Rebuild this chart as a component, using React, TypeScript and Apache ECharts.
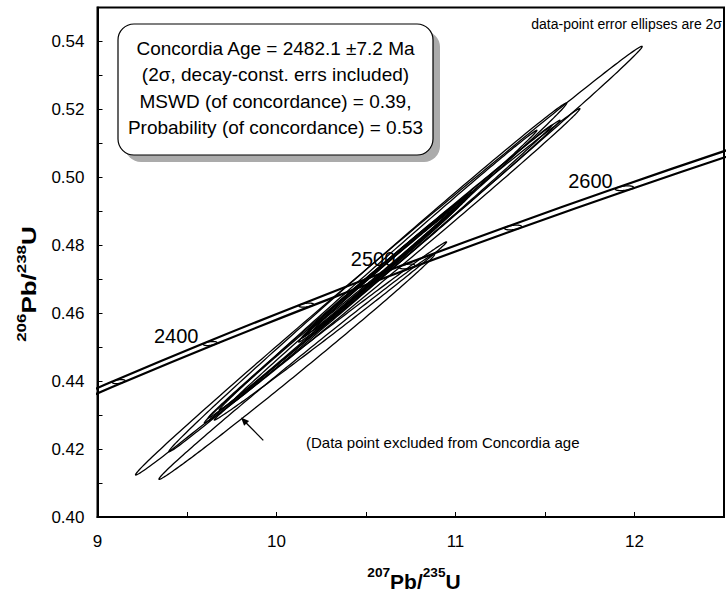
import React, { useEffect, useRef } from "react";
import * as echarts from "echarts";

// Concordia curve (Wetherill), nodes every 50 Ma
const concordiaAges = [2300, 2350, 2400, 2450, 2500, 2550, 2600, 2650];
const concordiaX = [8.6326, 9.1188, 9.6294, 10.166, 10.7297, 11.3218, 11.9437, 12.597];
const concordiaY = [0.42873, 0.43986, 0.45107, 0.46237, 0.47375, 0.48523, 0.49679, 0.50845];
// decay-constant 2-sigma half width of the band in 207Pb/235U
const bandDx = [0.0332, 0.0357, 0.0383, 0.041, 0.044, 0.0471, 0.0505, 0.0541];
const markerDy = [0.0006, 0.0006, 0.0006, 0.0006, 0.0007, 0.0007, 0.0007, 0.0007];
const markerRho = [0.4, 0.4, 0.4, 0.4, 0.4, 0.4, 0.4, 0.4];
const labeledAges = [2400, 2500, 2600];

// data-point error ellipses (centre, 2-sigma errors, error correlation)
const ellX = [10.6276, 10.1134, 10.51, 10.6459, 10.6015, 10.3012, 10.6035, 10.609, 10.5674, 10.6367, 10.609, 10.6146, 10.6063];
const ellSx = [1.4152, 0.7701, 1.1112, 1.0491, 0.9825, 0.6489, 0.4632, 0.4299, 0.8874, 0.9013, 0.4853, 0.4077, 0.4493];
const ellY = [0.47547, 0.44424, 0.47055, 0.47395, 0.47297, 0.45477, 0.47355, 0.47414, 0.47267, 0.47414, 0.47356, 0.47341, 0.47355];
const ellSy = [0.06311, 0.03315, 0.05134, 0.04629, 0.04384, 0.02623, 0.02089, 0.01912, 0.04119, 0.04119, 0.02207, 0.01839, 0.0203];
const ellRho = [0.99881, 0.99765, 0.99858, 0.99877, 0.99904, 0.99841, 0.9979, 0.99874, 0.99909, 0.99929, 0.99753, 0.99801, 0.99928];

const boxLines = [
  "Concordia Age = 2482.1 \u00b17.2 Ma",
  "(2\u03c3, decay-const. errs included)",
  "MSWD (of concordance) = 0.39,",
  "Probability (of concordance) = 0.53",
];

const FONT = '"Liberation Sans", Arial, Helvetica, sans-serif';

function ellipseRender(lineWidth: number) {
  return (params: any, api: any) => {
    const cx = api.value(0);
    const sx = api.value(1);
    const cy = api.value(2);
    const sy = api.value(3);
    const r = api.value(4);
    const k = Math.sqrt(Math.max(0, 1 - r * r));
    const pts: number[][] = [];
    const n = 240;
    for (let i = 0; i < n; i++) {
      const t = (i / n) * Math.PI * 2;
      const x = cx + sx * Math.cos(t);
      const y = cy + sy * (r * Math.cos(t) + k * Math.sin(t));
      pts.push(api.coord([x, y]));
    }
    return {
      type: "polygon",
      shape: { points: pts },
      style: { fill: "none", stroke: "#000", lineWidth },
    };
  };
}

export default function App() {
  const ref = useRef<HTMLDivElement>(null);
  useEffect(() => {
    if (!ref.current) return;
    const chart = echarts.init(ref.current, undefined, { renderer: "svg" });

    const ellipseData = ellX.map((x, i) => [x, ellSx[i], ellY[i], ellSy[i], ellRho[i]]);
    const markerData = concordiaAges.map((a, i) => [concordiaX[i], bandDx[i], concordiaY[i], markerDy[i], markerRho[i]]);
    const upper = concordiaAges.map((a, i) => [concordiaX[i] - bandDx[i], concordiaY[i]]);
    const lower = concordiaAges.map((a, i) => [concordiaX[i] + bandDx[i], concordiaY[i]]);
    const labelData = labeledAges.map((a) => {
      const i = concordiaAges.indexOf(a);
      return { value: [concordiaX[i], concordiaY[i]], name: String(a) };
    });

    const sup = { fontSize: 13, fontWeight: "bold", fontFamily: FONT, color: "#000", verticalAlign: "top", lineHeight: 13 };
    const big = { fontSize: 20, fontWeight: "bold", fontFamily: FONT, color: "#000", verticalAlign: "bottom", lineHeight: 25 };

    const boxLeft = 118, boxTop = 24, boxW = 315, boxH = 131;

    const option: any = {
      animation: false,
      backgroundColor: "#fff",
      grid: { left: 97.5, right: -1.5, top: 7.5, bottom: 80, show: true, borderColor: "#000", borderWidth: 2, backgroundColor: "transparent" },
      xAxis: {
        type: "value", min: 9, max: 12.5, interval: 0.5,
        axisLine: { show: true, lineStyle: { color: "#000", width: 2 } },
        axisTick: { show: true, inside: true, length: 5, lineStyle: { color: "#000", width: 1 } },
        axisLabel: { fontSize: 17, fontFamily: FONT, color: "#000", margin: 16, formatter: (v: number) => (Math.abs(v - Math.round(v)) < 1e-9 ? String(Math.round(v)) : "") },
        splitLine: { show: false },
      },
      yAxis: {
        type: "value", min: 0.4, max: 0.55, interval: 0.01,
        axisLine: { show: true, lineStyle: { color: "#000", width: 2 } },
        axisTick: { show: true, inside: true, length: 5, lineStyle: { color: "#000", width: 1 } },
        axisLabel: { fontSize: 17, fontFamily: FONT, color: "#000", margin: 13, formatter: (v: number) => (Math.round(v * 100) % 2 === 0 ? v.toFixed(2) : "") },
        splitLine: { show: false },
      },
      series: [
        {
          type: "scatter", data: labelData, symbolSize: 0, silent: true, z: 1,
          itemStyle: { opacity: 1 },
          label: { show: true, position: "inside", offset: [-34, -7.5], formatter: (p: any) => p.name, fontSize: 20, fontFamily: FONT, color: "#000", opacity: 1 },
        },
        { type: "line", data: upper, smooth: true, symbol: "none", clip: true, lineStyle: { color: "#000", width: 2.2 }, z: 2 },
        { type: "line", data: lower, smooth: true, symbol: "none", clip: true, lineStyle: { color: "#000", width: 2.2 }, z: 2 },
        { type: "custom", data: markerData, clip: true, encode: { x: 0, y: 2 }, renderItem: ellipseRender(1.3), z: 3 },
        { type: "custom", data: ellipseData, clip: true, encode: { x: 0, y: 2 }, renderItem: ellipseRender(1.3), z: 4 },
      ],
      graphic: [
        { type: "rect", shape: { x: boxLeft + 7, y: boxTop + 7, width: boxW, height: boxH, r: 16 }, style: { fill: "#ababab" }, z: 10 },
        { type: "rect", shape: { x: boxLeft, y: boxTop, width: boxW, height: boxH, r: 16 }, style: { fill: "#fff", stroke: "#000", lineWidth: 1.2 }, z: 11 },
        ...boxLines.map((t, i) => ({
          type: "text", x: boxLeft + boxW / 2, y: 48 + i * 26.5, z: 12,
          style: { text: t, fontSize: 19, fontFamily: FONT, fill: "#000", align: "center", verticalAlign: "middle" },
        })),
        { type: "text", x: 722, y: 24, z: 12, style: { text: "data-point error ellipses are 2\u03c3", fontSize: 14, fontFamily: FONT, fill: "#000", align: "right", verticalAlign: "middle" } },
        { type: "text", x: 306, y: 442, z: 12, style: { text: "(Data point excluded from Concordia age", fontSize: 15, fontFamily: FONT, fill: "#000", align: "left", verticalAlign: "middle" } },
        { type: "line", shape: { x1: 263.3, y1: 440.4, x2: 245, y2: 421.7 }, style: { stroke: "#000", lineWidth: 1.3 }, z: 12 },
        { type: "polygon", shape: { points: [[241, 417.6], [249.1, 420.9], [244.1, 425.7]] }, style: { fill: "#000" }, z: 12 },
        {
          type: "text", x: 414, y: 579, z: 12, scaleX: 1.05,
          style: { text: "{s|207}{b|Pb/}{s|235}{b|U}", rich: { s: sup, b: big }, align: "center", verticalAlign: "middle" },
        },
        {
          type: "text", x: 27, y: 284, rotation: Math.PI / 2, scaleX: 1.3, z: 12,
          style: { text: "{s|206}{b|Pb/}{s|238}{b|U}", rich: { s: sup, b: big }, align: "center", verticalAlign: "middle" },
        },
      ],
    };
    chart.setOption(option);
    return () => chart.dispose();
  }, []);
  return <div ref={ref} style={{ position: "fixed", left: 0, top: 0, width: 727, height: 597, background: "#fff" }} />;
}
